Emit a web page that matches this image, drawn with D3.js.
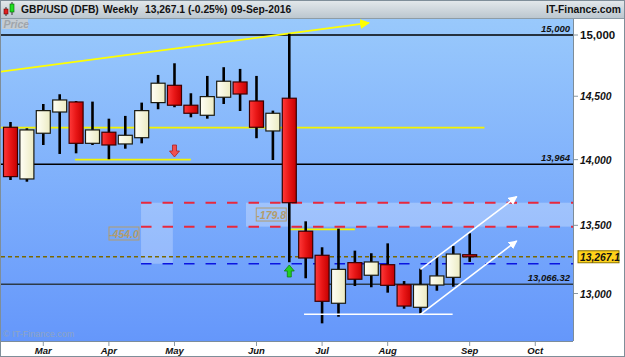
<!DOCTYPE html>
<html>
<head>
<meta charset="utf-8">
<script src="https://cdn.jsdelivr.net/npm/d3@7"></script>
<style>
  html, body { margin: 0; padding: 0; background: #fff; }
  svg { display: block; font-family: "Liberation Sans", Arial, sans-serif; }
</style>
</head>
<body>
<svg id="chart" width="625" height="357"></svg>
<script>
// weekly GBP/USD (DFB) candles, week starting dates
const weeks = ["2016-02-22","2016-02-29","2016-03-07","2016-03-14","2016-03-21","2016-03-28",
  "2016-04-04","2016-04-11","2016-04-18","2016-04-25","2016-05-02","2016-05-09","2016-05-16",
  "2016-05-23","2016-05-30","2016-06-06","2016-06-13","2016-06-20","2016-06-27","2016-07-04",
  "2016-07-11","2016-07-18","2016-07-25","2016-08-01","2016-08-08","2016-08-15","2016-08-22",
  "2016-08-29","2016-09-05"];
const opens  = [14253,13851,14206,14374,14454,14127,14214,14122,14171,14449,14588,14428,14348,14492,14615,14462,14224,14484,13456,13278,12930,13224,13132,13209,13063,12901,13061,13117,13282];
const highs  = [14295,14245,14438,14516,14462,14457,14321,14343,14449,14672,14767,14524,14664,14735,14721,14664,14385,15010,13530,13337,13475,13312,13293,13366,13090,13180,13268,13346,13441];
const lows   = [13843,13830,14114,14044,14049,14114,14003,14085,14127,14396,14412,14332,14321,14438,14382,14167,13997,13227,13110,12787,12834,13054,13045,13006,12891,12858,13020,13049,13229];
const closes = [13869,14232,14385,14470,14127,14232,14114,14190,14385,14605,14428,14364,14497,14621,14518,14253,14364,13670,13258,12944,13175,13103,13229,13059,12910,13063,13127,13287,13267.1];

const lastPrice = 13267.1;
const yTicks = [13000, 13500, 14000, 14500, 15000];
const monthLabels = ["Mar","Apr","May","Jun","Jul","Aug","Sep","Oct"];
const monthWeeks = ["2016-03-07","2016-04-04","2016-05-02","2016-06-06","2016-07-04","2016-08-01","2016-09-05","2016-10-03"];

// drawn levels and tools (week index, price)
const levels = [15000, 13964, 13066.32];
const levelText = ["15,000", "13,964", "13,066.32"];
const trendLine = [[-1, 14692], [21.86, 15101]];
const yellowLines = [[-1, 28.9, 14250], [3.93, 11.0, 14000], [17, 21, 13470]];
const whiteLine = [17.9, 26.96, 12851];
const whiteArrows = [[25, 12851, 30.87, 13384], [25, 13175, 30.87, 13716]];
const measureTop = 13670, measureA = -179.8, measureB = -454.0;
const measureStart = 7.96, measureEnd = 9.9, bandStart = 14.36;
const measureLabels = [[6.92, 13439, "-454.0"], [15.9, 13581, "-179.8"]];
const markers = [[10, 14067, "down"], [17, 13163, "up"]];

const plot = {left: 1, right: 573, top: 19, bottom: 341};
const svg = d3.select("#chart");
const defs = svg.append("defs");

function grad(id, vertical, stops) {
  const g = defs.append("linearGradient").attr("id", id)
    .attr("x1", 0).attr("y1", 0).attr("x2", vertical ? 0 : 1).attr("y2", vertical ? 1 : 0);
  stops.forEach(s => g.append("stop").attr("offset", s[0]).attr("stop-color", s[1]));
}
grad("bg", true, [[0, "#99c9fc"], [1, "#6597fb"]]);
grad("hdr", true, [[0, "#e4e9ec"], [1, "#bcc7cf"]]);
grad("red", false, [[0, "#ff3a3a"], [0.5, "#e81616"], [1, "#c40000"]]);
grad("cream", false, [[0, "#fffff6"], [1, "#ecebc2"]]);
defs.append("clipPath").attr("id", "clip").append("rect")
  .attr("x", plot.left).attr("y", plot.top)
  .attr("width", plot.right - plot.left).attr("height", plot.bottom - plot.top);

function arrowMarker(id, color) {
  defs.append("marker").attr("id", id).attr("viewBox", "0 0 10 10")
    .attr("refX", 9).attr("refY", 5).attr("markerWidth", 5.5).attr("markerHeight", 5.5)
    .attr("markerUnits", "strokeWidth").attr("orient", "auto")
    .append("path").attr("d", "M0,0L10,5L0,10z").attr("fill", color);
}
arrowMarker("arrY", "#ffff00");
arrowMarker("arrW", "#ffffff");

const t0 = new Date(weeks[0]);
const idx = d => Math.round((new Date(d) - t0) / 864e5) / 7;

const x = d3.scaleLinear().domain([-0.64, 34.3]).range([0, plot.right]);
const y = d3.scaleLog().domain([13000, 15000]).range([293.5, 35]);
const fmt = d3.format(",");

// frame
svg.append("rect").attr("width", 625).attr("height", 357).attr("fill", "#fff");
svg.append("rect").attr("x", 0).attr("y", 0).attr("width", 625).attr("height", 18).attr("fill", "url(#hdr)");
svg.append("rect").attr("x", plot.left).attr("y", plot.top)
  .attr("width", plot.right - plot.left).attr("height", plot.bottom - plot.top).attr("fill", "url(#bg)");
svg.append("line").attr("x1", 0).attr("x2", 625).attr("y1", 18.5).attr("y2", 18.5).attr("stroke", "#8d9ca6");
svg.append("line").attr("x1", plot.right + 0.5).attr("x2", plot.right + 0.5).attr("y1", 19).attr("y2", plot.bottom)
  .attr("stroke", "#7d8d99");
svg.append("line").attr("x1", 0).attr("x2", plot.right).attr("y1", plot.bottom + 0.5).attr("y2", plot.bottom + 0.5)
  .attr("stroke", "#7d8d99");

// header
const hi = svg.append("g");
hi.append("line").attr("x1", 6).attr("x2", 6).attr("y1", 7).attr("y2", 16).attr("stroke", "#333");
hi.append("rect").attr("x", 4).attr("y", 9).attr("width", 4).attr("height", 5).attr("fill", "#e02020").attr("stroke", "#600").attr("stroke-width", 0.6);
hi.append("line").attr("x1", 12).attr("x2", 12).attr("y1", 2).attr("y2", 15).attr("stroke", "#333");
hi.append("rect").attr("x", 10).attr("y", 4).attr("width", 4).attr("height", 8).attr("fill", "#22dd22").attr("stroke", "#060").attr("stroke-width", 0.6);
const hdrText = [[21, "GBP/USD (DFB)"], [103, "Weekly"], [145, "13,267.1 (-0.25%)"], [231, "09-Sep-2016"]];
svg.selectAll("text.hdr").data(hdrText).join("text").attr("class", "hdr")
  .attr("x", d => d[0]).attr("y", 13).attr("font-size", 10.3).attr("font-weight", "bold").attr("fill", "#111")
  .text(d => d[1]);
svg.append("text").attr("x", 621).attr("y", 13).attr("text-anchor", "end").attr("font-size", 10.3)
  .attr("font-weight", "bold").attr("fill", "#111").text("IT-Finance.com");

const pg = svg.append("g").attr("clip-path", "url(#clip)");

// "Price" tag and watermark
pg.append("rect").attr("x", 2).attr("y", 19).attr("width", 26).attr("height", 10).attr("fill", "#c4ccd3");
pg.append("text").attr("x", 3.5).attr("y", 28).attr("font-size", 10.5).attr("font-style", "italic")
  .attr("font-weight", "bold").attr("fill", "#a0a6ac").text("Price");
pg.append("text").attr("x", 3).attr("y", 337).attr("font-size", 9).attr("fill", "#8ea4c4").text("© IT-Finance.com");

// measure tool band/rect
const yTop = y(measureTop), yA = y(measureTop + measureA), yB = y(measureTop + measureB);
pg.append("rect").attr("x", x(bandStart)).attr("y", yTop).attr("width", plot.right - x(bandStart))
  .attr("height", yA - yTop).attr("fill", "#ffffff").attr("fill-opacity", 0.28);
pg.append("rect").attr("x", x(measureStart)).attr("y", yTop).attr("width", x(measureEnd) - x(measureStart))
  .attr("height", yB - yTop).attr("fill", "#ffffff").attr("fill-opacity", 0.25);
pg.selectAll("line.red").data([yTop, yA]).join("line").attr("class", "red")
  .attr("x1", x(measureStart)).attr("x2", plot.right).attr("y1", d => d).attr("y2", d => d)
  .attr("stroke", "#e8283c").attr("stroke-width", 2).attr("stroke-dasharray", "10.5,11");
pg.append("line").attr("x1", x(measureStart)).attr("x2", plot.right).attr("y1", yB).attr("y2", yB)
  .attr("stroke", "#0a14e0").attr("stroke-width", 1.6).attr("stroke-dasharray", "10.5,11");
const ml = pg.selectAll("g.ml").data(measureLabels).join("g").attr("class", "ml");
ml.append("rect").attr("x", d => x(d[0]) - 15).attr("y", d => y(d[1]) - 6.5).attr("width", 30).attr("height", 13)
  .attr("fill", "none").attr("stroke", "#b39c6c").attr("stroke-width", 1);
ml.append("text").attr("x", d => x(d[0])).attr("y", d => y(d[1]) + 4).attr("text-anchor", "middle")
  .attr("font-size", 10.5).attr("font-weight", "bold").attr("font-style", "italic").attr("fill", "#b39c6c")
  .text(d => d[2]);

// horizontal levels
pg.selectAll("line.lvl").data(levels).join("line").attr("class", "lvl")
  .attr("x1", plot.left).attr("x2", plot.right).attr("y1", d => y(d)).attr("y2", d => y(d))
  .attr("stroke", (d, i) => i === 2 ? "#2c3a48" : "#000").attr("stroke-width", 1.4);
pg.selectAll("text.lvl").data(levels).join("text").attr("class", "lvl")
  .attr("x", 570).attr("y", d => y(d) - 3).attr("text-anchor", "end")
  .attr("font-size", 9.5).attr("font-weight", "bold").attr("font-style", "italic").attr("fill", "#111")
  .text((d, i) => levelText[i]);

// last price line
pg.append("line").attr("x1", plot.left).attr("x2", plot.right).attr("y1", y(lastPrice)).attr("y2", y(lastPrice))
  .attr("stroke", "#7a6800").attr("stroke-width", 1.4).attr("stroke-dasharray", "4,3");

// yellow drawings
pg.append("line").attr("x1", x(trendLine[0][0])).attr("y1", y(trendLine[0][1]))
  .attr("x2", x(trendLine[1][0])).attr("y2", y(trendLine[1][1]))
  .attr("stroke", "#ffff00").attr("stroke-width", 1.8).attr("marker-end", "url(#arrY)");
pg.selectAll("line.yl").data(yellowLines).join("line").attr("class", "yl")
  .attr("x1", d => x(d[0])).attr("x2", d => x(d[1])).attr("y1", d => y(d[2])).attr("y2", d => y(d[2]))
  .attr("stroke", "#f4f400").attr("stroke-width", 1.8);

// candles
const candles = weeks.map((w, i) => ({i: idx(w), o: opens[i], h: highs[i], l: lows[i], c: closes[i]}));
const cg = pg.selectAll("g.candle").data(candles).join("g").attr("class", "candle");
cg.append("line").attr("x1", d => x(d.i)).attr("x2", d => x(d.i))
  .attr("y1", d => y(d.h)).attr("y2", d => y(d.l)).attr("stroke", "#000").attr("stroke-width", 2.6);
cg.append("rect").attr("x", d => x(d.i) - 7).attr("width", 14)
  .attr("y", d => y(Math.max(d.o, d.c)))
  .attr("height", d => Math.max(2, Math.abs(y(d.o) - y(d.c))))
  .attr("fill", d => d.c < d.o ? "url(#red)" : "url(#cream)")
  .attr("stroke", d => d.c < d.o ? "#3a0000" : "#1a1a10").attr("stroke-width", 1.2);

// white drawings
pg.append("line").attr("x1", x(whiteLine[0])).attr("x2", x(whiteLine[1]))
  .attr("y1", y(whiteLine[2])).attr("y2", y(whiteLine[2])).attr("stroke", "#fff").attr("stroke-width", 1.6);
pg.selectAll("line.wa").data(whiteArrows).join("line").attr("class", "wa")
  .attr("x1", d => x(d[0])).attr("y1", d => y(d[1])).attr("x2", d => x(d[2])).attr("y2", d => y(d[3]))
  .attr("stroke", "#fff").attr("stroke-width", 1.6).attr("marker-end", "url(#arrW)");

// signal arrows
pg.selectAll("path.mk").data(markers).join("path").attr("class", "mk")
  .attr("transform", d => `translate(${x(d[0])},${y(d[1])})${d[2] === "down" ? "" : " rotate(180)"}`)
  .attr("d", "M-2,-6L2,-6L2,0L5,0L0,6L-5,0L-2,0Z")
  .attr("fill", d => d[2] === "down" ? "#f05050" : "#22d022")
  .attr("stroke", d => d[2] === "down" ? "#b02020" : "#108010").attr("stroke-width", 0.8);

// right axis
const ra = svg.append("g");
ra.selectAll("line").data(yTicks).join("line")
  .attr("x1", plot.right + 1).attr("x2", plot.right + 5).attr("y1", d => y(d)).attr("y2", d => y(d))
  .attr("stroke", "#8a98a2");
ra.selectAll("text").data(yTicks).join("text")
  .attr("x", 580).attr("y", d => y(d) + 4)
  .attr("font-size", d => d === 15000 ? 11.5 : 10.3).attr("font-weight", "bold")
  .attr("font-style", d => d === 15000 ? "normal" : "italic").attr("fill", "#111")
  .text(d => fmt(d));
ra.append("rect").attr("x", 578).attr("y", y(lastPrice) - 6).attr("width", 41).attr("height", 12)
  .attr("fill", "#ffd21a").attr("stroke", "#8c7400");
ra.append("text").attr("x", 580).attr("y", y(lastPrice) + 4).attr("font-size", 10.3).attr("font-weight", "bold")
  .attr("font-style", "italic").attr("fill", "#111").text("13,267.1");

// bottom axis
const ba = svg.append("g");
const mIdx = monthWeeks.map(idx);
ba.selectAll("line").data(mIdx).join("line")
  .attr("x1", d => x(d)).attr("x2", d => x(d)).attr("y1", plot.bottom + 1).attr("y2", plot.bottom + 5)
  .attr("stroke", "#8a98a2");
ba.selectAll("text").data(mIdx).join("text")
  .attr("x", d => x(d)).attr("y", 354).attr("text-anchor", "middle")
  .attr("font-size", 9.5).attr("font-weight", "bold").attr("font-style", "italic").attr("fill", "#111")
  .text((d, i) => monthLabels[i]);

// outer border
svg.append("rect").attr("x", 0.5).attr("y", 0.5).attr("width", 624).attr("height", 356)
  .attr("fill", "none").attr("stroke", "#7f8e99");
</script>
</body>
</html>
